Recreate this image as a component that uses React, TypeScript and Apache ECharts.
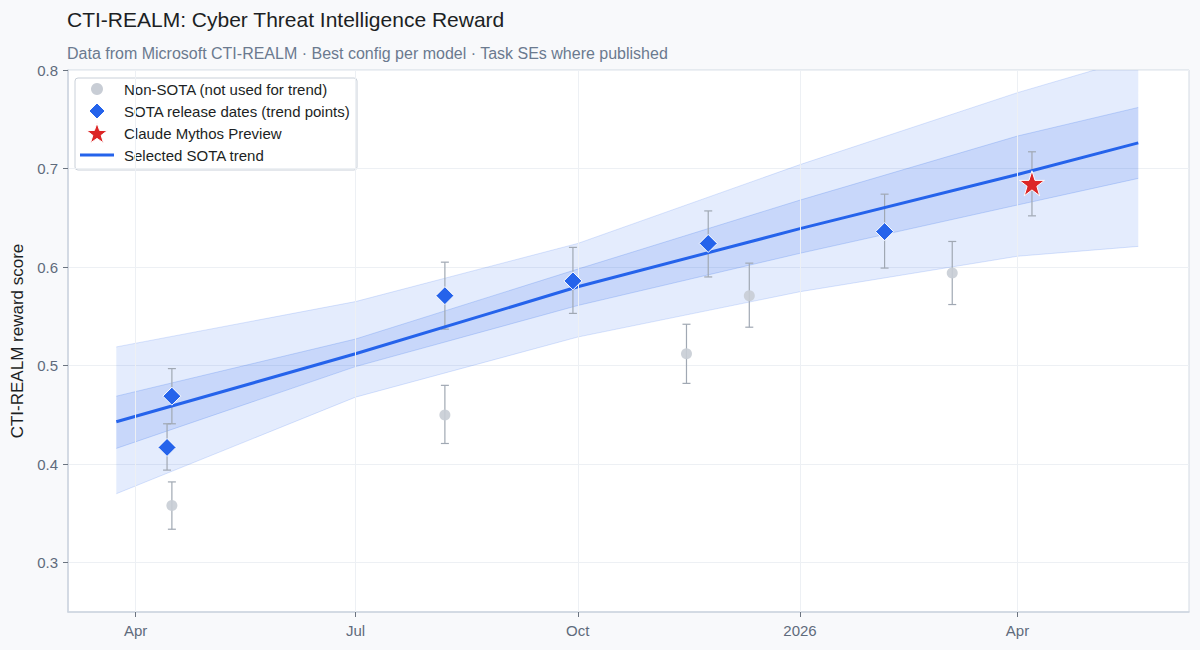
import React, { useEffect, useRef } from "react";
import * as echarts from "echarts";

// ---- Data ---------------------------------------------------------------

// Non-SOTA models (grey, not used for the trend)
const nonSotaDates = ["2025-04-16", "2025-08-07", "2025-11-15", "2025-12-11", "2026-03-05"];
const nonSotaScores = [0.358, 0.45, 0.512, 0.571, 0.594];
const nonSotaLow = [0.334, 0.421, 0.482, 0.539, 0.562];
const nonSotaHigh = [0.382, 0.48, 0.542, 0.604, 0.626];

// SOTA models at their release dates (trend points)
const sotaDates = ["2025-04-14", "2025-04-16", "2025-08-07", "2025-09-29", "2025-11-24", "2026-02-05"];
const sotaScores = [0.417, 0.469, 0.571, 0.586, 0.624, 0.636];
const sotaLow = [0.394, 0.441, 0.537, 0.553, 0.59, 0.599];
const sotaHigh = [0.441, 0.497, 0.605, 0.62, 0.657, 0.674];

// Claude Mythos Preview
const mythosDate = "2026-04-07";
const mythosScore = 0.685;
const mythosLow = 0.652;
const mythosHigh = 0.717;

// Fitted SOTA trend with its two uncertainty bands
const trendDates = ["2025-03-24", "2025-07-01", "2025-10-01", "2026-01-01", "2026-04-01", "2026-05-21"];
const trendValues = [0.443, 0.512, 0.58, 0.639, 0.694, 0.726];
const innerUpper = [0.469, 0.527, 0.598, 0.668, 0.733, 0.762];
const innerLower = [0.416, 0.499, 0.561, 0.614, 0.663, 0.69];
const outerUpper = [0.519, 0.565, 0.624, 0.704, 0.777, 0.813];
const outerLower = [0.37, 0.468, 0.529, 0.575, 0.611, 0.621];

// Axes
const xStart = "2025-03-04";
const xEnd = "2026-06-11";
const xTickDates = ["2025-04-01", "2025-07-01", "2025-10-01", "2026-01-01", "2026-04-01"];
const xTickLabels = ["Apr", "Jul", "Oct", "2026", "Apr"];
const yTicks = [0.3, 0.4, 0.5, 0.6, 0.7, 0.8];

// Legend entries
const legendLabels = [
  "Non-SOTA (not used for trend)",
  "SOTA release dates (trend points)",
  "Claude Mythos Preview",
  "Selected SOTA trend",
];

// ---- Helpers --------------------------------------------------------------

const ts = (d: string) => Date.parse(d + "T00:00:00Z");
const FONT = 'Helvetica, Arial, "Liberation Sans", sans-serif';
const BLUE = "#2563eb";
const RED = "#dc2626";
const GREY = "#c8cdd5";
const BAR = "#a0a8b3";
const STAR =
  "path://M50,0 L61.8,35.1 L98.9,35.1 L69.1,56.9 L80.2,91.9 L50,70.2 L19.8,91.9 L30.9,56.9 L1.1,35.1 L38.2,35.1 Z";

// five-pointed star outline around (cx, cy)
const starPoints = (cx: number, cy: number, R: number, r: number) => {
  const pts: number[][] = [];
  for (let k = 0; k < 10; k++) {
    const a = -Math.PI / 2 + (k * Math.PI) / 5;
    const rad = k % 2 === 0 ? R : r;
    pts.push([cx + rad * Math.cos(a), cy + rad * Math.sin(a)]);
  }
  return pts;
};

const errorBarSeries = (name: string, rows: number[][]) => ({
  type: "custom",
  name,
  silent: true,
  z: 3,
  encode: { x: 0, y: [1, 2] },
  data: rows,
  renderItem: (_params: any, api: any) => {
    const x = api.value(0);
    const lo = api.coord([x, api.value(1)]);
    const hi = api.coord([x, api.value(2)]);
    const cap = 4;
    const style = { stroke: BAR, lineWidth: 1.2 };
    return {
      type: "group",
      children: [
        { type: "line", shape: { x1: hi[0], y1: hi[1], x2: lo[0], y2: lo[1] }, style },
        { type: "line", shape: { x1: hi[0] - cap, y1: hi[1], x2: hi[0] + cap, y2: hi[1] }, style },
        { type: "line", shape: { x1: lo[0] - cap, y1: lo[1], x2: lo[0] + cap, y2: lo[1] }, style },
      ],
    };
  },
});

// Shaded band between two curves, drawn once as a single polygon.
const bandSeries = (
  name: string,
  dates: number[],
  lower: number[],
  upper: number[],
  fill: string,
  edge: string,
  z: number
) => ({
  type: "custom",
  name,
  silent: true,
  clip: true,
  z,
  encode: { x: 0, y: [1, 2] },
  data: dates.map((t, i) => [t, lower[i], upper[i]]),
  renderItem: (params: any, api: any) => {
    if (params.dataIndex !== 0) return null;
    const top = dates.map((t, i) => api.coord([t, upper[i]]));
    const bottom = dates.map((t, i) => api.coord([t, lower[i]]));
    return {
      type: "group",
      children: [
        {
          type: "polygon",
          shape: { points: top.concat(bottom.slice().reverse()) },
          style: { fill, stroke: "none" },
        },
        { type: "polyline", shape: { points: top }, style: { fill: "none", stroke: edge, lineWidth: 1 } },
        { type: "polyline", shape: { points: bottom }, style: { fill: "none", stroke: edge, lineWidth: 1 } },
      ],
    };
  },
});

// Legend box drawn with graphic elements: one row per entry.
const legendGraphic = () => {
  const left = 75;
  const top = 78;
  const rowH = 22;
  const iconX = 97;
  const textX = 124;
  const rowY = (i: number) => top + 11 + i * rowH;
  const icons: any[] = [
    { type: "circle", shape: { cx: iconX, cy: rowY(0), r: 6 }, style: { fill: GREY } },
    {
      type: "polygon",
      shape: {
        points: [
          [iconX, rowY(1) - 8],
          [iconX + 8, rowY(1)],
          [iconX, rowY(1) + 8],
          [iconX - 8, rowY(1)],
        ],
      },
      style: { fill: BLUE, stroke: "#ffffff", lineWidth: 1 },
    },
    {
      type: "polygon",
      shape: { points: starPoints(iconX, rowY(2) + 1, 11, 4.4) },
      style: { fill: RED, stroke: "#ffffff", lineWidth: 1 },
    },
    {
      type: "line",
      shape: { x1: iconX - 17, y1: rowY(3), x2: iconX + 17, y2: rowY(3) },
      style: { stroke: BLUE, lineWidth: 3 },
    },
  ];
  const texts = legendLabels.map((label, i) => ({
    type: "text",
    x: textX,
    y: rowY(i),
    style: {
      text: label,
      fill: "#1c1f24",
      fontSize: 15,
      fontFamily: FONT,
      verticalAlign: "middle",
      align: "left",
    },
  }));
  return {
    type: "group",
    z: 100,
    children: [
      {
        type: "rect",
        shape: { x: left, y: top, width: 282, height: 92, r: 3 },
        style: { fill: "#ffffff", stroke: "#c9d0d9", lineWidth: 1 },
      },
      ...icons,
      ...texts,
    ],
  };
};

export default function App() {
  const ref = useRef<HTMLDivElement>(null);

  useEffect(() => {
    if (!ref.current) return;
    const chart = echarts.init(ref.current, undefined, { renderer: "svg" });

    const tickTs = xTickDates.map(ts);
    const tDates = trendDates.map(ts);

    const option: any = {
      animation: false,
      backgroundColor: "#f8f9fb",
      textStyle: { fontFamily: FONT },
      title: [
        {
          text: "CTI-REALM: Cyber Threat Intelligence Reward",
          left: 62,
          top: 4,
          textStyle: { fontFamily: FONT, fontSize: 21, fontWeight: "normal", color: "#1c1f24" },
        },
        {
          text: "Data from Microsoft CTI-REALM · Best config per model · Task SEs where published",
          left: 62,
          top: 40,
          textStyle: { fontFamily: FONT, fontSize: 16, fontWeight: "normal", color: "#6b7a8f" },
        },
      ],
      graphic: [legendGraphic()],
      grid: {
        left: 68,
        right: 11,
        top: 70,
        bottom: 38,
        show: true,
        backgroundColor: "#ffffff",
        borderColor: "#d3dae3",
        borderWidth: 1,
        outerBoundsMode: "none",
      },
      xAxis: {
        type: "value",
        min: ts(xStart),
        max: ts(xEnd),
        axisLine: { show: true, lineStyle: { color: "#cdd5df", width: 1.5 } },
        axisTick: { show: true, length: 5, lineStyle: { color: "#6b7480" }, customValues: tickTs },
        axisLabel: {
          customValues: tickTs,
          margin: 11,
          fontSize: 15,
          color: "#5f6b7c",
          fontFamily: FONT,
          formatter: (v: number) => {
            const i = tickTs.indexOf(v);
            return i >= 0 ? xTickLabels[i] : "";
          },
        },
        splitLine: { show: false },
      },
      yAxis: {
        type: "value",
        min: 0.25,
        max: 0.8,
        name: "CTI-REALM reward score",
        nameLocation: "middle",
        nameGap: 42,
        nameTextStyle: { fontFamily: FONT, fontSize: 17, color: "#1c1f24" },
        axisLine: { show: true, lineStyle: { color: "#cdd5df", width: 1.5 } },
        axisTick: { show: true, length: 5, lineStyle: { color: "#6b7480" }, customValues: yTicks },
        axisLabel: {
          customValues: yTicks,
          margin: 10,
          fontSize: 15,
          color: "#5f6b7c",
          fontFamily: FONT,
          formatter: (v: number) => v.toFixed(1),
        },
        splitLine: { show: true, lineStyle: { color: "#edf0f4", width: 1 } },
      },
      series: [
        // vertical grid lines at the month ticks
        {
          type: "line",
          name: "month-grid",
          silent: true,
          z: 0,
          data: [],
          markLine: {
            silent: true,
            symbol: ["none", "none"],
            label: { show: false },
            lineStyle: { color: "#edf0f4", type: "solid", width: 1 },
            data: tickTs.map((t) => ({ xAxis: t })),
          },
        },
        bandSeries("outer-band", tDates, outerLower, outerUpper, "rgba(37,99,235,0.12)", "rgba(37,99,235,0.16)", 1),
        bandSeries("inner-band", tDates, innerLower, innerUpper, "rgba(37,99,235,0.15)", "rgba(37,99,235,0.2)", 2),
        errorBarSeries(
          "nonsota-err",
          nonSotaDates.map((d, i) => [ts(d), nonSotaLow[i], nonSotaHigh[i]])
        ),
        errorBarSeries(
          "sota-err",
          sotaDates.map((d, i) => [ts(d), sotaLow[i], sotaHigh[i]])
        ),
        errorBarSeries("mythos-err", [[ts(mythosDate), mythosLow, mythosHigh]]),
        {
          type: "line",
          name: "Selected SOTA trend",
          symbol: "none",
          z: 4,
          data: tDates.map((t, i) => [t, trendValues[i]]),
          color: BLUE,
          itemStyle: { color: BLUE },
          lineStyle: { color: BLUE, width: 3 },
        },
        {
          type: "scatter",
          name: "Non-SOTA (not used for trend)",
          z: 5,
          symbol: "circle",
          symbolSize: 11,
          color: GREY,
          itemStyle: { color: GREY, opacity: 0.9 },
          data: nonSotaDates.map((d, i) => [ts(d), nonSotaScores[i]]),
        },
        {
          type: "scatter",
          name: "SOTA release dates (trend points)",
          z: 6,
          symbol: "diamond",
          symbolSize: 18,
          color: BLUE,
          itemStyle: { color: BLUE, borderColor: "#ffffff", borderWidth: 1, opacity: 1 },
          data: sotaDates.map((d, i) => [ts(d), sotaScores[i]]),
        },
        {
          type: "scatter",
          name: "Claude Mythos Preview",
          z: 7,
          symbol: STAR,
          symbolSize: 25,
          color: RED,
          itemStyle: { color: RED, borderColor: "#ffffff", borderWidth: 1, opacity: 1 },
          data: [[ts(mythosDate), mythosScore]],
        },
      ],
    };

    chart.setOption(option);
    return () => chart.dispose();
  }, []);

  return (
    <div
      ref={ref}
      style={{ position: "fixed", left: 0, top: 0, width: 1200, height: 650 }}
    />
  );
}
